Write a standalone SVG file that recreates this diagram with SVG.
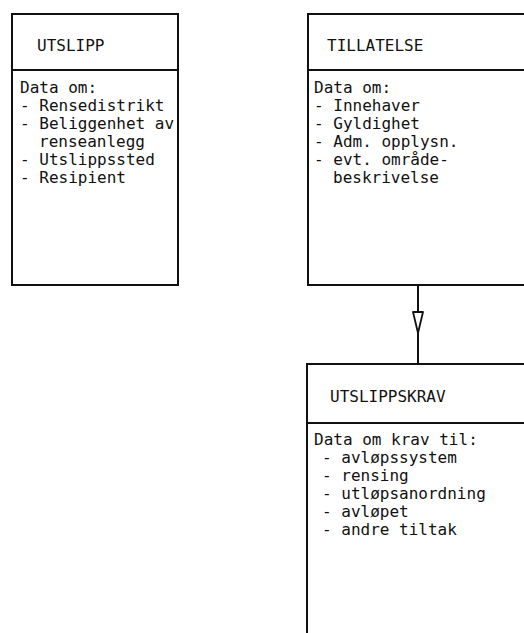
<svg xmlns="http://www.w3.org/2000/svg" width="524" height="633" viewBox="0 0 524 633">
<style>
.box{fill:#fff;stroke:#111;stroke-width:2}
.div{stroke:#111;stroke-width:2}
text{font-family:"DejaVu Sans Mono","Liberation Mono",monospace;font-size:16px;fill:#111}
.conn{fill:none;stroke:#111;stroke-width:2}
</style>
<defs>
<marker id="arr" markerUnits="userSpaceOnUse" viewBox="-24 -8 26 16" markerWidth="26" markerHeight="16" refX="0" refY="0" orient="auto" overflow="visible">
<path d="M-21,-5 L-21,5 L0,0 Z" fill="#fff" stroke="#111" stroke-width="1.8" stroke-linejoin="round"/>
</marker>
</defs>
<rect width="524" height="633" fill="#fff"/>
<g id="connectors">
<path class="conn" d="M418,285 L418,333 L418,364" marker-mid="url(#arr)"/>
</g>
<g id="utslipp">
<rect class="box" x="12" y="14" width="166" height="271"/>
<line class="div" x1="12" y1="70" x2="178" y2="70"/>
<text x="37" y="51">UTSLIPP</text>
<text x="20" y="93">Data om:</text>
<text x="20" y="111">- Rensedistrikt</text>
<text x="20" y="129">- Beliggenhet av</text>
<text x="39" y="147">renseanlegg</text>
<text x="20" y="165">- Utslippssted</text>
<text x="20" y="183">- Resipient</text>
</g>
<g id="tillatelse">
<rect class="box" x="308" y="14" width="230" height="271"/>
<line class="div" x1="308" y1="70" x2="530" y2="70"/>
<text x="327" y="51">TILLATELSE</text>
<text x="314" y="93">Data om:</text>
<text x="314" y="111">- Innehaver</text>
<text x="314" y="129">- Gyldighet</text>
<text x="314" y="147">- Adm. opplysn.</text>
<text x="314" y="165">- evt. område-</text>
<text x="333" y="183">beskrivelse</text>
</g>
<g id="utslippskrav">
<rect class="box" x="307" y="364" width="230" height="290"/>
<line class="div" x1="307" y1="423" x2="530" y2="423"/>
<text x="330" y="402">UTSLIPPSKRAV</text>
<text x="314" y="445">Data om krav til:</text>
<text x="322" y="463">- avløpssystem</text>
<text x="322" y="481">- rensing</text>
<text x="322" y="499">- utløpsanordning</text>
<text x="322" y="517">- avløpet</text>
<text x="322" y="535">- andre tiltak</text>
</g>
</svg>
